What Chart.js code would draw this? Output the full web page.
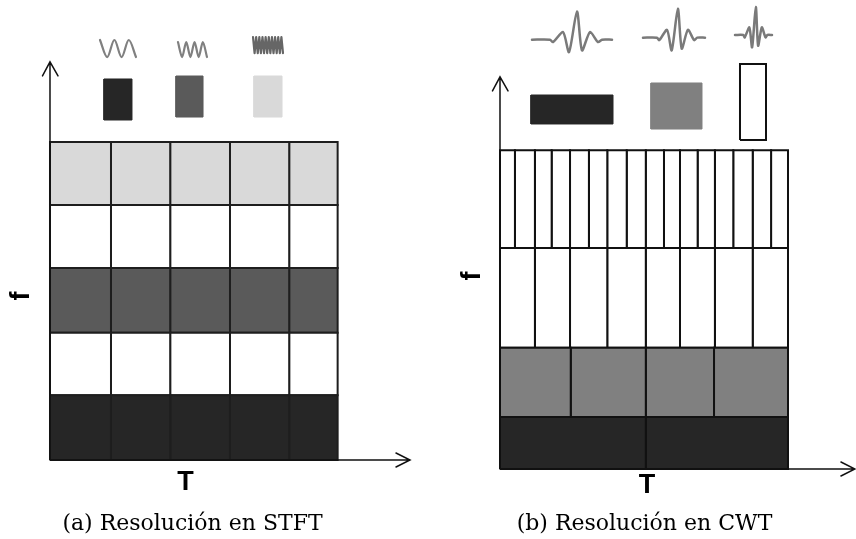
<!DOCTYPE html>
<html>
<head>
<meta charset="utf-8">
<script src="https://cdn.jsdelivr.net/npm/chart.js@4.4.1/dist/chart.umd.min.js"></script>
<style>
  html, body { margin: 0; padding: 0; background: #ffffff; }
  #wrap { position: relative; width: 856px; height: 539px; overflow: hidden; }
  .panel { position: absolute; top: 0; width: 428px; height: 539px; }
  #p1 { left: 0; }
  #p2 { left: 428px; }
</style>
</head>
<body>
<div id="wrap">
  <div class="panel" id="p1"><canvas id="c1" width="428" height="539"></canvas></div>
  <div class="panel" id="p2"><canvas id="c2" width="428" height="539"></canvas></div>
</div>
<script>
// ================= DATA =================
// (a) STFT tiling: uniform time / frequency resolution
const stftTimeEdges = [0, 1.02, 2.01, 3.01, 4.0, 4.81];
const stftFreqEdges = [0, 1.02, 2.0, 3.02, 4.01, 5.0];
const stftBandShade = ['black', 'white', 'dark', 'white', 'light'];
const stftAxisTop = 6.26;     // f at arrow tip
const stftAxisEnd = 6.02;     // T at arrow tip
// key boxes above the grid
const stftKeyShade = ['black', 'dark', 'light'];
const stftKeyT0 = [0.903, 2.107, 3.411];
const stftKeyT1 = [1.371, 2.559, 3.880];
const stftKeyF0 = [5.346, 5.393, 5.393];
const stftKeyF1 = [5.991, 6.038, 6.038];
// window signals (sinusoids of increasing frequency), read as alternating extremes
const stftWaveT0 = [0.836, 2.140, 3.395];
const stftWaveT1 = [1.438, 2.625, 3.896];
const stftWaveMid = [6.470, 6.454, 6.525];
const stftWaveAmp = [0.134, 0.118, 0.126];
const stftWave1 = [1, -1, 1, -1, 1, -1];
const stftWave2 = [1, -1, 1, -1, 1, -1, 1, -1];
const stftWave3 = [1, -1, 1, -1, 1, -1, 1, -1, 1, -1, 1, -1, 1, -1, 1, -1, 1, -1, 1, -1];

// (b) CWT tiling: rows from low to high frequency
const cwtFreqEdges = [0, 1.0, 2.33, 4.25, 6.13];
const cwtBandShade = ['black', 'gray', 'white', 'white'];
const cwtTimeEdges = [
  [0, 8.1, 16],
  [0, 3.93, 8.1, 11.89, 16],
  [0, 1.94, 3.89, 5.96, 8.1, 10.0, 11.94, 14.04, 16],
  [0, 0.83, 1.94, 2.87, 3.89, 4.94, 5.96, 7.04, 8.1, 9.11, 10.0, 10.98, 11.94, 12.96, 14.04, 15.06, 16]
];
const cwtAxisTop = 7.54;
const cwtAxisEnd = 19.72;
const cwtKeyShade = ['black', 'gray', 'white'];
const cwtKeyT0 = [1.722, 8.389, 13.333];
const cwtKeyT1 = [6.278, 11.222, 14.778];
const cwtKeyF0 = [6.635, 6.538, 6.327];
const cwtKeyF1 = [7.192, 7.423, 7.788];
// wavelets (same mother wavelet at three scales)
const cwtWaveletT0 = [1.778, 7.944, 13.056];
const cwtWaveletT1 = [6.222, 11.389, 15.111];
const cwtWaveletBase = [8.256, 8.295, 8.346];
const cwtWaveletAmp = [0.544, 0.556, 0.538];
const waveletU = [0, 0.225, 0.2625, 0.3875, 0.4625, 0.5625, 0.625, 0.725, 0.825, 0.875, 1];
const waveletA = [0, 0, -0.085, 0.27, -0.44, 1, -0.38, 0.27, -0.085, 0, 0];

const stftCaption = '(a) Resolución en STFT';
const cwtCaption = '(b) Resolución en CWT';
const timeLabel = 'T';
const freqLabel = 'f';

// ================= STYLE =================
const SHADE = { black: '#262626', dark: '#5a5a5a', light: '#d9d9d9', gray: '#808080', white: '#ffffff' };

function rectDataset(t0, t1, f0, f1, fillColor, lineColor, lineWidth) {
  return {
    type: 'line',
    data: [{x: t0, y: f0}, {x: t1, y: f0}, {x: t1, y: f1}, {x: t0, y: f1}, {x: t0, y: f0}],
    fill: 'shape',
    backgroundColor: fillColor,
    borderColor: lineColor,
    borderWidth: lineWidth,
    borderJoinStyle: 'miter',
    pointRadius: 0,
    tension: 0,
    clip: false
  };
}

function waveDataset(t0, t1, mid, amp, us, as, color, width, tension) {
  const data = as.map((a, i) => ({
    x: t0 + (t1 - t0) * (us ? us[i] : i / (as.length - 1)),
    y: mid + amp * a
  }));
  return {
    type: 'line', data, fill: false, borderColor: color, borderWidth: width,
    pointRadius: 0, tension: tension, clip: false, borderJoinStyle: 'round', borderCapStyle: 'round'
  };
}

function panelPlugin(cfg) {
  return {
    id: 'panelDecor' + cfg.name,
    afterDatasetsDraw(chart) {
      const ctx = chart.ctx;
      const xs = chart.scales.x, ys = chart.scales.y;
      const ox = xs.getPixelForValue(0), oy = ys.getPixelForValue(0);
      const topY = ys.getPixelForValue(cfg.axisTop);
      const endX = xs.getPixelForValue(cfg.axisEnd);
      ctx.save();
      ctx.strokeStyle = '#111';
      ctx.lineWidth = 1.5;
      ctx.lineCap = 'round';
      ctx.beginPath();
      ctx.moveTo(ox, oy); ctx.lineTo(ox, topY);
      ctx.moveTo(ox, oy); ctx.lineTo(endX, oy);
      // arrow heads
      ctx.moveTo(ox - 7.5, topY + 14); ctx.lineTo(ox, topY); ctx.lineTo(ox + 8, topY + 14);
      ctx.moveTo(endX - 14, oy - 7); ctx.lineTo(endX, oy); ctx.lineTo(endX - 14, oy + 7);
      ctx.stroke();
      ctx.restore();
      for (const l of cfg.texts) {
        ctx.save();
        ctx.font = l.font;
        ctx.fillStyle = '#000';
        ctx.textAlign = 'center';
        ctx.textBaseline = 'middle';
        ctx.translate(xs.getPixelForValue(l.t), ys.getPixelForValue(l.f));
        if (l.rot) ctx.rotate(l.rot);
        ctx.fillText(l.text, 0, 0);
        ctx.restore();
      }
    }
  };
}

function baseOptions(xmin, xmax, ymin, ymax) {
  return {
    responsive: false,
    animation: false,
    devicePixelRatio: 1,
    layout: { padding: 0 },
    plugins: { legend: { display: false }, tooltip: { enabled: false }, title: { display: false } },
    events: [],
    scales: {
      x: { type: 'linear', min: xmin, max: xmax, display: false },
      y: { type: 'linear', min: ymin, max: ymax, display: false }
    }
  };
}

// ================= PANEL (a) =================
const dsA = [];
for (let b = 0; b < stftBandShade.length; b++) {
  for (let c = 0; c < stftTimeEdges.length - 1; c++) {
    dsA.push(rectDataset(stftTimeEdges[c], stftTimeEdges[c + 1], stftFreqEdges[b], stftFreqEdges[b + 1],
      SHADE[stftBandShade[b]], '#1e1e1e', 2));
  }
}
for (let k = 0; k < stftKeyShade.length; k++) {
  dsA.push(rectDataset(stftKeyT0[k], stftKeyT1[k], stftKeyF0[k], stftKeyF1[k],
    SHADE[stftKeyShade[k]], SHADE[stftKeyShade[k]], 1));
}
const stftWaves = [stftWave1, stftWave2, stftWave3];
const stftWaveColor = ['#808080', '#808080', '#666666'];
const stftWaveTension = [0.35, 0.3, 0];
for (let w = 0; w < stftWaves.length; w++) {
  dsA.push(waveDataset(stftWaveT0[w], stftWaveT1[w], stftWaveMid[w], stftWaveAmp[w], null, stftWaves[w],
    stftWaveColor[w], 2.2, stftWaveTension[w]));
}

new Chart(document.getElementById('c1'), {
  type: 'line',
  data: { datasets: dsA },
  options: baseOptions(-0.836, 6.321, -1.242, 7.233),
  plugins: [panelPlugin({
    name: 'A', axisTop: stftAxisTop, axisEnd: stftAxisEnd,
    texts: [
      { text: timeLabel, t: 2.266, f: -0.362, font: 'bold 27px "Liberation Sans", Arial, sans-serif' },
      { text: freqLabel, t: -0.468, f: 2.579, rot: -Math.PI / 2, font: 'bold 27px "Liberation Sans", Arial, sans-serif' },
      { text: stftCaption, t: 2.383, f: -1.006, font: '22px "DejaVu Serif", serif' }
    ]
  })]
});

// ================= PANEL (b) =================
const dsB = [];
for (let r = 0; r < cwtBandShade.length; r++) {
  const edges = cwtTimeEdges[r];
  for (let c = 0; c < edges.length - 1; c++) {
    dsB.push(rectDataset(edges[c], edges[c + 1], cwtFreqEdges[r], cwtFreqEdges[r + 1],
      SHADE[cwtBandShade[r]], '#111111', 2));
  }
}
for (let k = 0; k < cwtKeyShade.length; k++) {
  const white = cwtKeyShade[k] === 'white';
  dsB.push(rectDataset(cwtKeyT0[k], cwtKeyT1[k], cwtKeyF0[k], cwtKeyF1[k],
    SHADE[cwtKeyShade[k]], white ? '#111111' : SHADE[cwtKeyShade[k]], white ? 2 : 1));
}
for (let w = 0; w < cwtWaveletT0.length; w++) {
  dsB.push(waveDataset(cwtWaveletT0[w], cwtWaveletT1[w], cwtWaveletBase[w], cwtWaveletAmp[w], waveletU, waveletA,
    '#7a7a7a', 2.5, 0.25));
}

new Chart(document.getElementById('c2'), {
  type: 'line',
  data: { datasets: dsB },
  options: baseOptions(-4, 19.778, -1.346, 9.019),
  plugins: [panelPlugin({
    name: 'B', axisTop: cwtAxisTop, axisEnd: cwtAxisEnd,
    texts: [
      { text: timeLabel, t: 8.167, f: -0.327, font: 'bold 27px "Liberation Sans", Arial, sans-serif' },
      { text: freqLabel, t: -1.5, f: 3.712, rot: -Math.PI / 2, font: 'bold 27px "Liberation Sans", Arial, sans-serif' },
      { text: cwtCaption, t: 8.028, f: -1.058, font: '22px "DejaVu Serif", serif' }
    ]
  })]
});
</script>
</body>
</html>
